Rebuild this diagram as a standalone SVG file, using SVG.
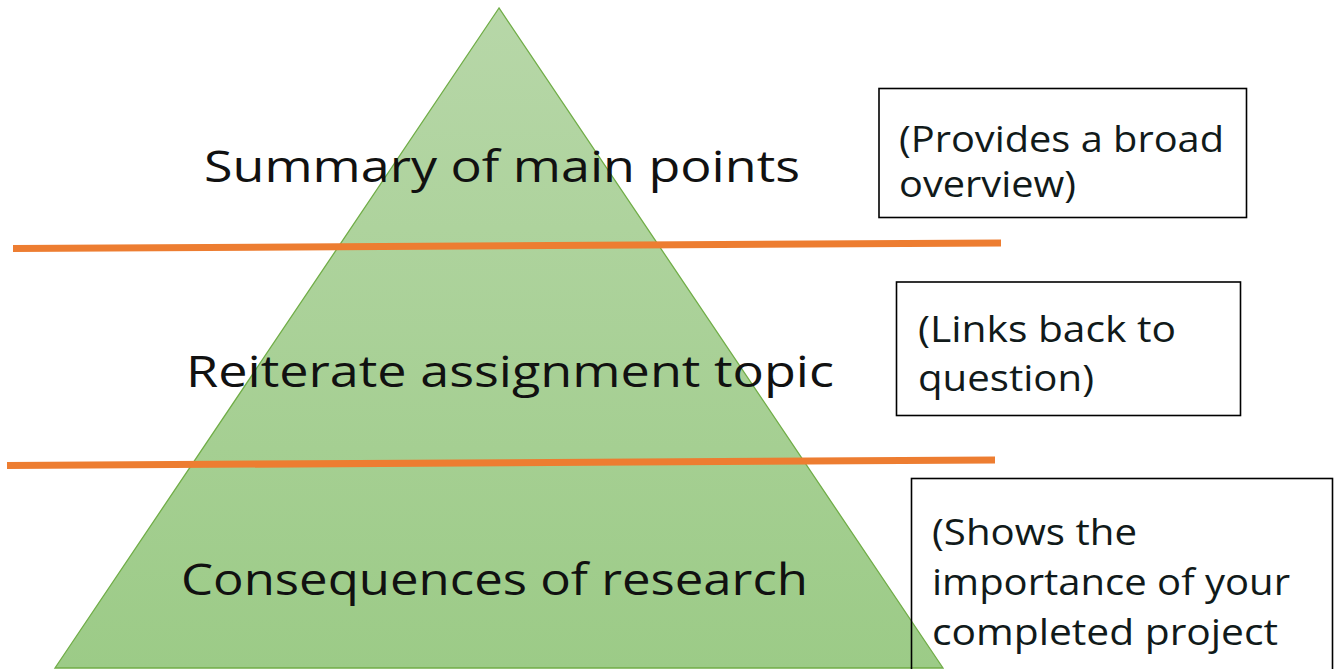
<svg xmlns="http://www.w3.org/2000/svg" width="1338" height="669" viewBox="0 0 1338 669">
<defs>
<linearGradient id="g" x1="0" y1="0" x2="0" y2="1">
<stop offset="0" stop-color="#b7d7a8"/>
<stop offset="1" stop-color="#9ccb87"/>
</linearGradient>
</defs>
<style>
.main{font-family:"Open Sans","Liberation Sans",sans-serif;font-size:43px;fill:#111111;}
.note{font-family:"Open Sans","Liberation Sans",sans-serif;font-size:36px;fill:#111a1a;}
.box{fill:none;stroke:#000000;stroke-width:1.6;}
.bar{stroke:#ed7d31;stroke-width:7;fill:none;}
</style>
<rect width="1338" height="669" fill="#ffffff"/>
<g id="pyramid">
<polygon points="499,8 55,668 943,668" fill="url(#g)" stroke="#70ad47" stroke-width="1.3"/>
</g>
<g id="connectors">
<line class="bar" x1="13" y1="248.5" x2="1001" y2="243"/>
<line class="bar" x1="7" y1="465.5" x2="995" y2="460"/>
</g>
<g id="level1">
<text class="main" x="204" y="182" textLength="596" lengthAdjust="spacingAndGlyphs">Summary of main points</text>
</g>
<g id="level2">
<text class="main" x="186" y="387" textLength="648" lengthAdjust="spacingAndGlyphs">Reiterate assignment topic</text>
</g>
<g id="level3">
<text class="main" x="181" y="595" textLength="627" lengthAdjust="spacingAndGlyphs">Consequences of research</text>
</g>
<g id="note1">
<rect class="box" x="879" y="88.5" width="367.5" height="129"/>
<text class="note" x="899" y="152" textLength="325" lengthAdjust="spacingAndGlyphs">(Provides a broad</text>
<text class="note" x="899" y="197" textLength="177" lengthAdjust="spacingAndGlyphs">overview)</text>
</g>
<g id="note2">
<rect class="box" x="896.5" y="282" width="344" height="133.5"/>
<text class="note" x="918" y="342" textLength="258" lengthAdjust="spacingAndGlyphs">(Links back to</text>
<text class="note" x="918" y="391" textLength="176" lengthAdjust="spacingAndGlyphs">question)</text>
</g>
<g id="note3">
<rect class="box" x="911.5" y="478.5" width="421" height="200"/>
<text class="note" x="932" y="545" textLength="205" lengthAdjust="spacingAndGlyphs">(Shows the</text>
<text class="note" x="932" y="595" textLength="358" lengthAdjust="spacingAndGlyphs">importance of your</text>
<text class="note" x="932" y="645" textLength="346" lengthAdjust="spacingAndGlyphs">completed project</text>
</g>
</svg>
